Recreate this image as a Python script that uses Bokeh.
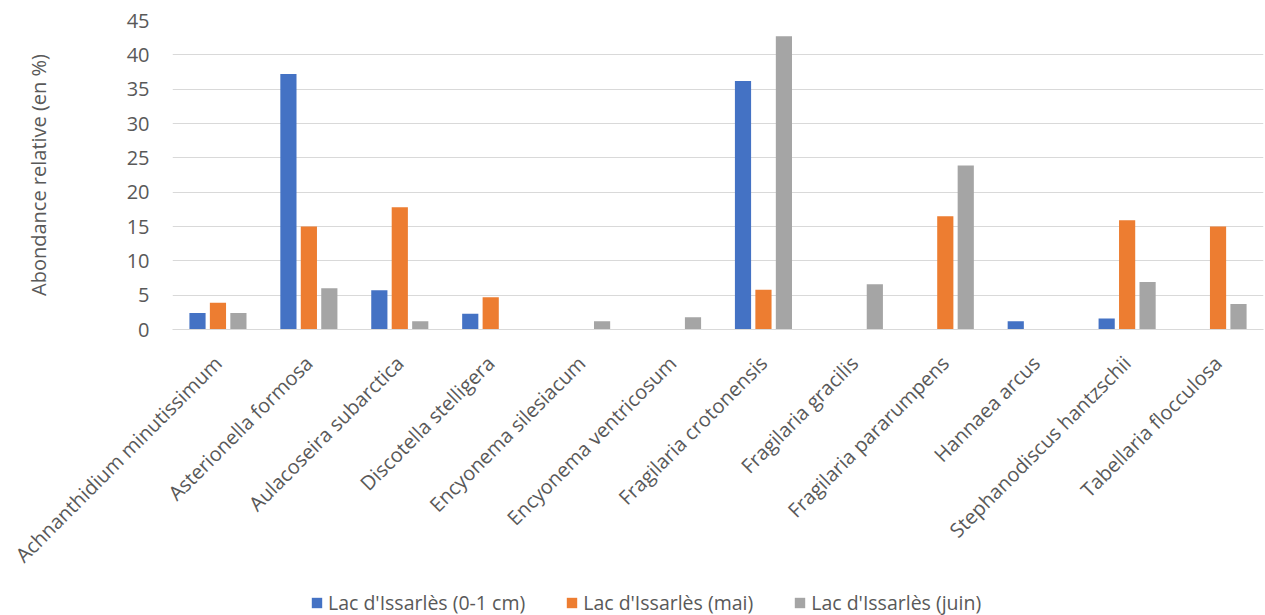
import math
from bokeh.plotting import figure
from bokeh.layouts import column
from bokeh.models import ColumnDataSource, FactorRange, Range1d, Legend, LegendItem, FixedTicker
from bokeh.transform import dodge
from bokeh.embed import file_html
from bokeh.resources import INLINE

categories = ["Achnanthidium minutissimum", "Asterionella formosa", "Aulacoseira subarctica",
              "Discotella stelligera", "Encyonema silesiacum", "Encyonema ventricosum",
              "Fragilaria crotonensis", "Fragilaria gracilis", "Fragilaria pararumpens",
              "Hannaea arcus", "Stephanodiscus hantzschii", "Tabellaria flocculosa"]
sediment = [2.4, 37.2, 5.7, 2.3, 0, 0, 36.2, 0, 0, 1.2, 1.6, 0]
mai = [3.9, 15.0, 17.8, 4.7, 0, 0, 5.8, 0, 16.5, 0, 15.9, 15.0]
juin = [2.4, 6.0, 1.2, 0, 1.2, 1.8, 42.7, 6.6, 23.9, 0, 6.9, 3.7]
series_names = ["Lac d'Issarlès (0-1 cm)", "Lac d'Issarlès (mai)", "Lac d'Issarlès (juin)"]
y_ticks = [0, 5, 10, 15, 20, 25, 30, 35, 40, 45]

colors = ["#4472C4", "#ED7D31", "#A5A5A5"]
font = "Open Sans"
text_color = "#595959"

source = ColumnDataSource(data=dict(cat=categories, s0=sediment, s1=mai, s2=juin))

p = figure(x_range=FactorRange(*categories), y_range=Range1d(0, 45),
           width=1265, height=580, output_backend="svg", toolbar_location=None,
           min_border_left=172, min_border_right=2, min_border_top=20, min_border_bottom=250)
p.outline_line_color = None

for i, (col, c) in enumerate(zip(["s0", "s1", "s2"], colors)):
    p.vbar(x=dodge("cat", (i - 1) * 0.225, range=p.x_range), top=col, width=0.178,
           source=source, fill_color=c, line_color=None)

p.xgrid.grid_line_color = None
p.ygrid.grid_line_color = "#D9D9D9"
p.ygrid.grid_line_width = 1

p.yaxis.ticker = FixedTicker(ticks=y_ticks)
p.yaxis.axis_line_color = None
p.yaxis.major_tick_line_color = None
p.yaxis.minor_tick_line_color = None
p.yaxis.major_label_standoff = 17
p.yaxis.major_label_text_font = font
p.yaxis.major_label_text_font_size = "20px"
p.yaxis.major_label_text_color = text_color
p.yaxis.axis_label = "Abondance relative (en %)"
p.yaxis.axis_label_text_font = font
p.yaxis.axis_label_text_font_size = "20px"
p.yaxis.axis_label_text_font_style = "normal"
p.yaxis.axis_label_text_color = text_color
p.yaxis.axis_label_standoff = 72

p.xaxis.axis_line_color = "#D9D9D9"
p.xaxis.major_tick_line_color = None
p.xaxis.minor_tick_line_color = None
p.xaxis.major_label_orientation = math.pi / 4
p.xaxis.major_label_text_font = font
p.xaxis.major_label_text_font_size = "20px"
p.xaxis.major_label_text_color = text_color
p.xaxis.major_label_standoff = 24

# legend strip below the chart
pl = figure(width=1265, height=35, output_backend="svg", toolbar_location=None,
            x_range=Range1d(0, 1), y_range=Range1d(0, 1),
            x_axis_location=None, y_axis_location=None,
            min_border_left=0, min_border_right=0, min_border_top=0, min_border_bottom=0)
pl.outline_line_color = None
pl.xgrid.grid_line_color = None
pl.ygrid.grid_line_color = None
leg_renderers = [pl.vbar(x=[-10], top=[0], width=0.1, fill_color=c, line_color=None) for c in colors]

legend = Legend(items=[LegendItem(label=n, renderers=[r]) for n, r in zip(series_names, leg_renderers)],
                orientation="horizontal", location=(138, -1), spacing=40,
                glyph_width=13, glyph_height=13, label_standoff=5,
                label_text_font=font, label_text_font_size="19.5px", label_text_color=text_color,
                padding=0, margin=0, border_line_color=None, background_fill_alpha=0)
pl.add_layout(legend, "center")

layout = column(p, pl, spacing=0)
open("out.html", "w").write(file_html(layout, INLINE))
